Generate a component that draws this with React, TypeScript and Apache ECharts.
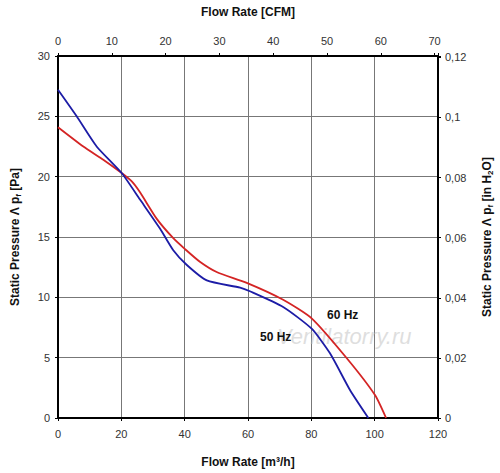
import React, { useEffect, useRef } from "react";
import * as echarts from "echarts";

// Flow rate [m³/h] and static pressure [Pa]
const blueFlow = [0, 5.9, 12.2, 20.1, 25.9, 32.2, 36.4, 40.6, 47, 57.5, 60.6, 71.1, 80.1, 85.9, 92.2, 98];
const bluePressure = [27.2, 25.0, 22.5, 20.3, 18.1, 15.7, 13.9, 12.7, 11.4, 10.8, 10.5, 9.2, 7.4, 5.36, 2.32, 0];
const redFlow = [0, 8, 14.3, 20.1, 23.3, 25.9, 31.2, 36.4, 40.1, 44.8, 50.1, 59.6, 71.1, 80.1, 91.2, 100.1, 103.6];
const redPressure = [24.1, 22.5, 21.4, 20.3, 19.6, 18.7, 16.5, 14.9, 14.0, 12.95, 12.1, 11.2, 9.8, 8.26, 4.95, 1.9, 0];

const seriesNames = ["50 Hz", "60 Hz"];
const flowMax = 120;
const flowInterval = 20;
const pressureMax = 30;
const pressureInterval = 5;
const m3hPerCfm = 1.699;
const paPerInH2O = 249.089;
const cfmInterval = 10;
const inH2OInterval = 0.02;

const FONT = "Liberation Sans, Arial, sans-serif";

export default function App() {
  const ref = useRef<HTMLDivElement>(null);
  useEffect(() => {
    document.body.style.margin = "0";
    if (!ref.current) return;
    const chart = echarts.init(ref.current, null, { renderer: "svg" });
    const axisLine = { show: true, onZero: false, lineStyle: { color: "#000", width: 2 } };
    const axisTick = { show: true, length: 3, inside: false, lineStyle: { color: "#000", width: 1 } };
    const axisLabel = { color: "#333", fontSize: 11, fontFamily: FONT };
    const nameStyle = { color: "#111", fontSize: 12, fontWeight: "bold" as const, fontFamily: FONT };
    const rich = {
      a: { fontSize: 12, fontWeight: "bold" as const, fontFamily: FONT, color: "#111" },
      s: { fontSize: 8, fontWeight: "bold" as const, fontFamily: FONT, color: "#111", padding: [6, 0, 0, 0] },
    };
    chart.setOption({
      animation: false,
      backgroundColor: "#fff",
      grid: { left: 58, right: 62, top: 56, bottom: 55, containLabel: false, outerBoundsMode: "none" },
      xAxis: [
        {
          type: "value",
          position: "bottom",
          min: 0,
          max: flowMax,
          interval: flowInterval,
          axisLine,
          axisTick,
          axisLabel: { ...axisLabel, margin: 10 },
          splitLine: { show: true, lineStyle: { color: "#777", width: 1 } },
          name: "Flow Rate [m³/h]",
          nameLocation: "middle",
          nameGap: 38,
          nameTextStyle: nameStyle,
        },
        {
          type: "value",
          position: "top",
          min: 0,
          max: flowMax / m3hPerCfm,
          interval: cfmInterval,
          axisLine,
          axisTick,
          axisLabel: {
            ...axisLabel,
            margin: 10,
            formatter: (v: number) =>
              Math.abs(v - Math.round(v / cfmInterval) * cfmInterval) < 1e-6 ? String(Math.round(v)) : "",
          },
          splitLine: { show: false },
          name: "Flow Rate [CFM]",
          nameLocation: "middle",
          nameGap: 38,
          nameTextStyle: nameStyle,
        },
      ],
      yAxis: [
        {
          type: "value",
          position: "left",
          min: 0,
          max: pressureMax,
          interval: pressureInterval,
          axisLine,
          axisTick,
          axisLabel: { ...axisLabel, margin: 8 },
          splitLine: { show: true, lineStyle: { color: "#777", width: 1 } },
          name: "{a|Static Pressure Λ p}{s|f}{a| [Pa]}",
          nameLocation: "middle",
          nameGap: 36,
          nameRotate: 90,
          nameTextStyle: { ...nameStyle, rich },
        },
        {
          type: "value",
          position: "right",
          min: 0,
          max: pressureMax / paPerInH2O,
          interval: inH2OInterval,
          axisLine,
          axisTick,
          axisLabel: {
            ...axisLabel,
            margin: 7,
            formatter: (v: number) => {
              const k = Math.round(v / inH2OInterval);
              if (Math.abs(v - k * inH2OInterval) > 1e-7) return "";
              return String(parseFloat((k * inH2OInterval).toFixed(2))).replace(".", ",");
            },
          },
          splitLine: { show: false },
          name: "{a|Static Pressure Λ p}{s|f}{a| [in H}{s|2}{a|O]}",
          nameLocation: "middle",
          nameGap: 42,
          nameRotate: 90,
          nameTextStyle: { ...nameStyle, rich },
        },
      ],
      graphic: [
        {
          type: "text",
          left: 277,
          top: 325,
          z: 1,
          style: {
            text: "Ventilatorry.ru",
            fontSize: 22,
            fontStyle: "italic",
            fontFamily: FONT,
            fill: "rgba(190,190,190,0.5)",
          },
        },
        {
          type: "text",
          left: 260,
          top: 331,
          z: 10,
          style: { text: seriesNames[0], fontSize: 12, fontWeight: "bold", fontFamily: FONT, fill: "#111" },
        },
        {
          type: "text",
          left: 327,
          top: 309,
          z: 10,
          style: { text: seriesNames[1], fontSize: 12, fontWeight: "bold", fontFamily: FONT, fill: "#111" },
        },
      ],
      series: [
        {
          name: seriesNames[0],
          type: "line",
          xAxisIndex: 0,
          yAxisIndex: 0,
          data: blueFlow.map((x, i) => [x, bluePressure[i]]),
          smooth: 0.2,
          showSymbol: false,
          symbol: "none",
          lineStyle: { color: "#1c1ca6", width: 1.8 },
          z: 5,
        },
        {
          name: seriesNames[1],
          type: "line",
          xAxisIndex: 0,
          yAxisIndex: 0,
          data: redFlow.map((x, i) => [x, redPressure[i]]),
          smooth: 0.2,
          showSymbol: false,
          symbol: "none",
          lineStyle: { color: "#d42424", width: 1.8 },
          z: 4,
        },
      ],
    });
    return () => chart.dispose();
  }, []);
  return <div ref={ref} style={{ width: 500, height: 473 }} />;
}
